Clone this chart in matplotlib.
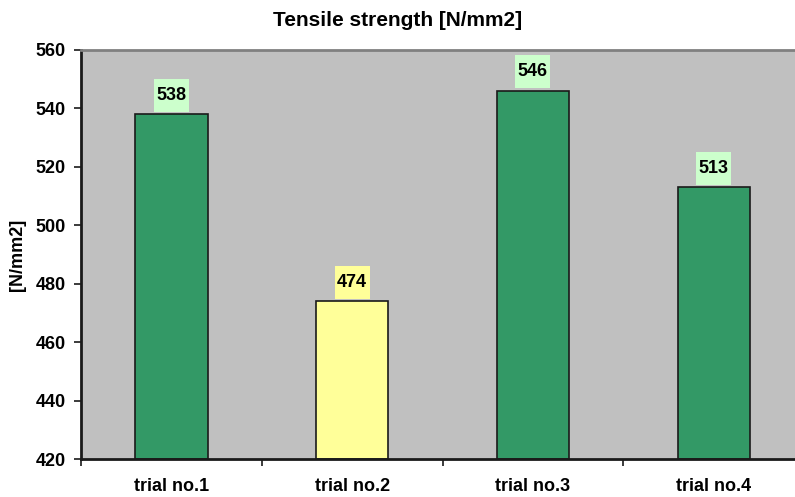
import matplotlib
matplotlib.use("Agg")
import matplotlib.pyplot as plt
from matplotlib.path import Path

categories = ["trial no.1", "trial no.2", "trial no.3", "trial no.4"]
values = [538, 474, 546, 513]
bar_colors = ["#339966", "#FFFF99", "#339966", "#339966"]
label_bg = ["#CCFFCC", "#FFFF99", "#CCFFCC", "#CCFFCC"]
yticks = [420, 440, 460, 480, 500, 520, 540, 560]

plt.rcParams['font.family'] = ['Liberation Sans', 'DejaVu Sans']

DPI = 100


def label_box(x0, y0, width, height, mutation_size):
    # box with 2.5 px horizontal and larger vertical padding (in pixels)
    px = 2.5
    target_h = 33.0
    py = max((target_h - height) / 2.0, 1.0)
    xa, xb = x0 - px, x0 + width + px
    ya, yb = y0 - py, y0 + height + py
    return Path([(xa, ya), (xb, ya), (xb, yb), (xa, yb), (xa, ya)], closed=True)


fig = plt.figure(figsize=(7.95, 4.97), dpi=DPI)
ax = fig.add_axes([81/795, 1-459/497, 1-81/795, (459-50)/497])
ax.set_facecolor("#C0C0C0")

x = list(range(len(categories)))
ax.bar(x, [v - 420 for v in values], bottom=420, width=0.4, color=bar_colors,
       edgecolor="#1a1a1a", linewidth=1.2, zorder=2)

for xi, v, bg in zip(x, values, label_bg):
    ax.annotate(str(v), (xi, v), xytext=(0, 7.6), textcoords="offset points",
                ha="center", va="bottom", fontsize=13, fontweight="bold",
                bbox=dict(boxstyle=label_box, facecolor=bg, edgecolor="none"),
                zorder=3)

ax.set_ylim(420, 560)
ax.set_yticks(yticks)
ax.set_yticklabels([str(t) for t in yticks], fontsize=13, fontweight="bold")
ax.set_xlim(-0.5, 3.45)
ax.set_xticks([i + 0.5 for i in range(-1, 3)])
ax.set_xticklabels([])
ax.set_xticks(x, minor=True)
ax.set_xticklabels(categories, minor=True, fontsize=13, fontweight="bold")
ax.tick_params(axis="x", which="minor", length=0, pad=14)
ax.tick_params(axis="x", which="major", length=5, width=1.2, direction="out", color="#1a1a1a")
ax.tick_params(axis="y", length=5, width=1.2, direction="out", color="#1a1a1a", pad=6)

for s in ["left", "bottom"]:
    ax.spines[s].set_linewidth(2)
    ax.spines[s].set_color("#1a1a1a")
ax.spines["top"].set_linewidth(2)
ax.spines["top"].set_color("#808080")
ax.spines["right"].set_visible(False)

ax.set_ylabel("[N/mm2]", fontsize=13, fontweight="bold", labelpad=7)
fig.text(0.5, 1-20/497, "Tensile strength [N/mm2]", ha="center", va="center",
         fontsize=15, fontweight="bold")

fig.savefig("out.png", dpi=DPI)
